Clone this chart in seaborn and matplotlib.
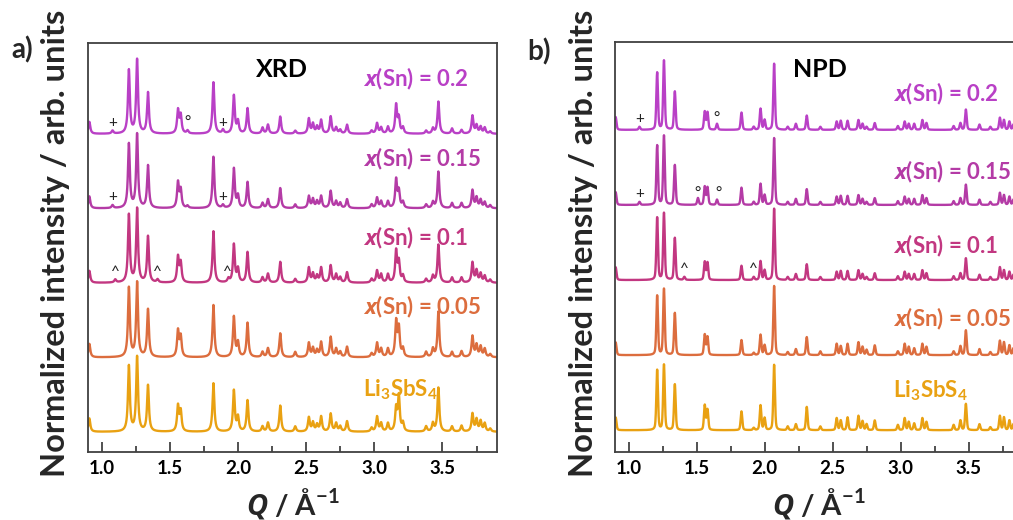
import numpy as np
import matplotlib
matplotlib.use('Agg')
import matplotlib.pyplot as plt
import seaborn as sns

# peak positions (Q, 1/A) and relative heights
# heights: 100 = one offset step between stacked patterns
xrd_pos = [0.91, 1.08, 1.10, 1.20, 1.26, 1.34, 1.41, 1.56, 1.58, 1.63,
           1.82, 1.89, 1.93, 1.97, 2.00, 2.07, 2.18, 2.22, 2.31, 2.42,
           2.52, 2.55, 2.58, 2.61, 2.68, 2.72, 2.75, 2.80, 2.98, 3.02,
           3.05, 3.10, 3.16, 3.18, 3.21, 3.38, 3.43, 3.47, 3.57, 3.64,
           3.72, 3.75, 3.78, 3.81, 3.85]
xrd_li = [18, 0, 0, 88, 100, 62, 0, 34, 27, 0, 65, 0, 0, 55, 19, 42, 7, 12, 35, 7,
          19, 12, 9, 20, 24, 11, 7, 14, 5, 20, 11, 11, 30, 47, 11, 7, 11, 59, 7, 8,
          24, 16, 14, 11, 4]
xrd_005 = [18, 0, 0, 93, 100, 64, 0, 35, 27, 0, 70, 0, 0, 54, 19, 46, 7, 12, 32, 7,
           19, 12, 9, 20, 27, 11, 7, 14, 5, 19, 11, 11, 47, 38, 11, 7, 11, 61, 7, 8,
           28, 16, 14, 11, 4]
xrd_01 = [16, 0, 4, 91, 99, 62, 4, 34, 26, 0, 69, 0, 5, 51, 18, 41, 7, 12, 28, 5,
          20, 12, 9, 20, 23, 11, 7, 14, 5, 16, 11, 11, 42, 27, 9, 5, 9, 51, 7, 7,
          27, 16, 12, 9, 4]
xrd_015 = [16, 4, 0, 86, 99, 57, 0, 34, 24, 3, 69, 4, 0, 53, 16, 35, 7, 12, 27, 5,
           16, 12, 9, 16, 23, 9, 7, 12, 5, 14, 9, 9, 38, 22, 8, 5, 8, 49, 7, 7,
           24, 14, 11, 8, 4]
xrd_02 = [16, 4, 0, 85, 99, 55, 0, 31, 24, 4, 69, 5, 0, 51, 16, 34, 8, 12, 23, 4,
          20, 13, 9, 18, 23, 8, 5, 12, 4, 14, 8, 9, 38, 20, 8, 4, 7, 43, 7, 5,
          24, 11, 9, 8, 3]

npd_pos = [0.905, 1.08, 1.21, 1.26, 1.34, 1.41, 1.51, 1.56, 1.58, 1.65,
           1.83, 1.92, 1.97, 2.00, 2.07, 2.17, 2.23, 2.31, 2.41, 2.53,
           2.56, 2.61, 2.69, 2.72, 2.75, 2.81, 2.98, 3.03, 3.06, 3.10,
           3.16, 3.19, 3.39, 3.44, 3.48, 3.58, 3.66, 3.73, 3.76, 3.80,
           3.83, 3.87]
npd_li = [17, 0, 80, 87, 61, 0, 0, 33, 27, 0, 25, 3, 33, 16, 87, 5, 8, 31, 5, 16,
          13, 17, 19, 12, 8, 13, 7, 16, 11, 9, 16, 11, 7, 13, 35, 8, 4, 19, 17, 13,
          8, 4]
npd_005 = [17, 0, 79, 88, 56, 0, 0, 27, 24, 0, 20, 3, 27, 13, 92, 4, 8, 24, 5, 15,
           12, 15, 17, 11, 7, 13, 5, 15, 11, 9, 15, 11, 5, 12, 33, 8, 4, 19, 17, 13,
           9, 4]
npd_01 = [17, 0, 83, 89, 56, 4, 0, 24, 23, 0, 19, 4, 25, 13, 95, 4, 8, 21, 4, 11,
          12, 12, 13, 8, 4, 9, 5, 11, 8, 8, 13, 9, 5, 9, 29, 7, 4, 17, 13, 11,
          7, 4]
npd_015 = [17, 4, 79, 92, 53, 0, 9, 24, 23, 7, 23, 4, 28, 13, 89, 4, 8, 21, 4, 11,
           12, 12, 13, 8, 4, 9, 5, 11, 8, 8, 13, 9, 5, 9, 27, 7, 4, 16, 13, 11,
           7, 4]
npd_02 = [17, 4, 76, 92, 51, 0, 0, 24, 23, 8, 23, 4, 28, 13, 88, 4, 8, 19, 4, 11,
          12, 12, 13, 8, 4, 9, 5, 11, 8, 8, 13, 9, 5, 9, 27, 7, 4, 16, 13, 11,
          7, 4]

labels = ['Li$_3$SbS$_4$', '$x$(Sn) = 0.05', '$x$(Sn) = 0.1',
          '$x$(Sn) = 0.15', '$x$(Sn) = 0.2']
colors = ['#e9a112', '#dc6d3e', '#c23781', '#b43ba6', '#b940c6']

# where the labels sit above each baseline
xrd_label_y = [0.56, 0.68, 0.60, 0.67, 0.74]
npd_label_y = [0.52, 0.48, 0.45, 0.44, 0.48]

# impurity markers: (Q, series index, symbol)
xrd_marks = [(1.08, 4, '+'), (1.63, 4, '°'), (1.89, 4, '+'),
             (1.08, 3, '+'), (1.89, 3, '+'),
             (1.10, 2, '^'), (1.41, 2, '^'), (1.92, 2, '^')]
npd_marks = [(1.08, 4, '+'), (1.645, 4, '°'),
             (1.08, 3, '+'), (1.51, 3, '°'), (1.66, 3, '°'),
             (1.41, 2, '^'), (1.92, 2, '^')]

q = np.linspace(0.9, 3.9, 3001)


def pattern(pos, hts, fwhm, eta):
    pos = np.asarray(pos)[:, None]
    hts = np.asarray(hts)[:, None] / 100.0
    d = (q[None, :] - pos) / (fwhm / 2)
    lor = 1 / (1 + d ** 2)
    gau = np.exp(-np.log(2) * d ** 2)
    return (hts * (eta * lor + (1 - eta) * gau)).sum(axis=0)


sns.set_style('ticks')
plt.rcParams['font.family'] = ['Lato', 'DejaVu Sans']
plt.rcParams['mathtext.fontset'] = 'custom'
plt.rcParams['mathtext.it'] = 'Open Sans:italic:bold'
plt.rcParams['mathtext.rm'] = 'Lato:bold'
plt.rcParams['mathtext.bf'] = 'Lato:bold'

fig = plt.figure(figsize=(10.13, 5.2), dpi=100)
ax1 = fig.add_axes([88 / 1013, 68 / 520, 409 / 1013, 409 / 520])
ax2 = fig.add_axes([615 / 1013, 68 / 520, 408 / 1013, 410 / 520])

panels = [
    (ax1, xrd_pos, [xrd_li, xrd_005, xrd_01, xrd_015, xrd_02], 0.016, 1.0,
     (-0.27, 5.22), xrd_label_y, 2.915, 'XRD', (2.32, 4.86), xrd_marks),
    (ax2, npd_pos, [npd_li, npd_005, npd_01, npd_015, npd_02], 0.014, 0.4,
     (-0.29, 5.17), npd_label_y, 2.945, 'NPD', (2.41, 4.80), npd_marks),
]

for ax, pos, series, fw, eta, ylim, lab_y, lab_x, title, tpos, marks in panels:
    for i, hts in enumerate(series):
        y = pattern(pos, hts, fw, eta) + i
        sns.lineplot(x=q, y=y, ax=ax, color=colors[i], lw=1.7, estimator=None)
        ax.text(lab_x, i + lab_y[i], labels[i], color=colors[i], fontsize=16,
                fontweight='bold', ha='left', va='center')
    for mq, si, sym in marks:
        ax.text(mq, si + 0.15, sym, fontsize=11, ha='center', va='center',
                color='#222222')
    ax.text(tpos[0], tpos[1], title, fontsize=18, fontweight='bold',
            ha='center', va='center', color='black')
    ax.set_xlim(0.9, 3.9)
    ax.set_ylim(*ylim)
    ax.set_yticks([])
    ax.set_xticks([1.0, 1.5, 2.0, 2.5, 3.0, 3.5])
    ax.set_xticks(np.arange(1.25, 3.9, 0.5), minor=True)
    ax.set_xticklabels(['1.0', '1.5', '2.0', '2.5', '3.0', '3.5'])
    ax.tick_params(axis='x', which='major', direction='in', length=7,
                   width=1.2, labelsize=13.5, pad=6, colors='#333333')
    ax.tick_params(axis='x', which='minor', direction='in', length=4,
                   width=1.2, colors='#333333')
    for lab in ax.get_xticklabels():
        lab.set_fontweight('bold')
        lab.set_color('black')
    for sp in ax.spines.values():
        sp.set_visible(True)
        sp.set_color('#404040')
        sp.set_linewidth(1.3)
    ax.set_xlabel('$Q$ / Å$^{-1}$', fontsize=21, fontweight='bold', labelpad=6)
    ax.set_ylabel('')

fig.text(55 / 1013, 1 - 243 / 520, 'Normalized intensity / arb. units',
         rotation=90, ha='center', va='center', fontsize=23.5, fontweight='bold')
fig.text(583 / 1013, 1 - 243 / 520, 'Normalized intensity / arb. units',
         rotation=90, ha='center', va='center', fontsize=23.5, fontweight='bold')
fig.text(22 / 1013, 1 - 50 / 520, 'a)', ha='center', va='center',
         fontsize=20, fontweight='bold')
fig.text(539 / 1013, 1 - 52 / 520, 'b)', ha='center', va='center',
         fontsize=20, fontweight='bold')

fig.savefig('out.png', dpi=100)
